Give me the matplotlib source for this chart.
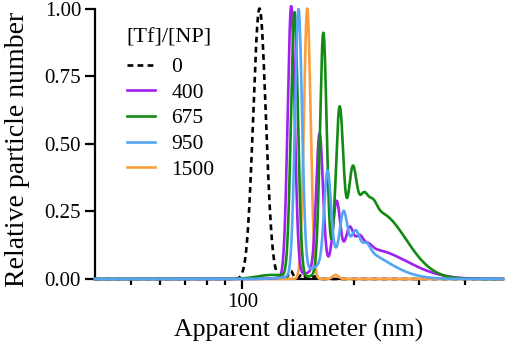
import numpy as np
import matplotlib
matplotlib.use("Agg")
import matplotlib.pyplot as plt
from matplotlib.ticker import FixedLocator, FixedFormatter, NullFormatter

plt.rcParams['font.family'] = 'serif'
plt.rcParams['font.serif'] = ['Liberation Serif']

# Peak parameters: centre (nm), height, width (decades of log10 d)
labels = ['0', '400', '675', '950', '1500']
colors = ['black', '#a020f0', '#138a13', '#55a5f5', '#fb9e3c']

centres_0 = [111.2, 135.0, 145.0, 157.0]
heights_0 = [1.0, 0.03, 0.02, 0.01]
widths_0 = [0.017, 0.006, 0.006, 0.006]

centres_400 = [135.4, 161.5, 179.5, 194.6, 207.1, 219.0, 221.8]
heights_400 = [1.0, 0.5, 0.22, 0.1, 0.055, 0.02, 0.11]
widths_400 = [0.0095, 0.009, 0.0095, 0.01, 0.01, 0.01, 0.095]

centres_675 = [120.0, 138.2, 165.3, 182.9, 198.3, 212.3, 224.6, 233.1]
heights_675 = [0.015, 0.98, 0.88, 0.55, 0.26, 0.1, 0.05, 0.245]
widths_675 = [0.04, 0.0095, 0.009, 0.01, 0.011, 0.011, 0.011, 0.073]

centres_950 = [141.7, 169.7, 187.5, 202.0, 216.3, 202.0]
heights_950 = [0.98, 0.33, 0.15, 0.07, 0.03, 0.11]
widths_950 = [0.0095, 0.009, 0.0095, 0.01, 0.01, 0.081]

centres_1500 = [149.6, 178.4]
heights_1500 = [1.0, 0.015]
widths_1500 = [0.009, 0.008]

series = [
    (centres_0, heights_0, widths_0),
    (centres_400, heights_400, widths_400),
    (centres_675, heights_675, widths_675),
    (centres_950, heights_950, widths_950),
    (centres_1500, heights_1500, widths_1500),
]

d = np.logspace(np.log10(40), np.log10(505), 3000)
ld = np.log10(d)


def profile(c, h, w):
    y = np.zeros_like(d)
    for ci, hi, wi in zip(c, h, w):
        y += hi * np.exp(-0.5 * ((ld - np.log10(ci)) / wi) ** 2)
    return y


fig = plt.figure(figsize=(5.05, 3.51), dpi=100)
ax = fig.add_axes([95 / 505, 1 - 279 / 351, 408 / 505, 270.5 / 351])

zorders = [2, 4, 5, 6, 3]
for (c, h, w), lab, col, z in zip(series, labels, colors, zorders):
    ls = (0, (2.2, 1.6)) if lab == '0' else '-'
    ax.plot(d, profile(c, h, w), color=col, lw=1.9, ls=ls, label=lab,
            zorder=z, clip_on=False)

ax.set_xscale('log')
ax.set_xlim(40, 505)
ax.set_ylim(0, 1.0)
ax.xaxis.set_major_locator(FixedLocator([100]))
ax.xaxis.set_minor_locator(FixedLocator([50, 60, 70, 80, 90, 200, 300, 400]))
ax.xaxis.set_major_formatter(FixedFormatter(['100']))
ax.xaxis.set_minor_formatter(NullFormatter())
ax.set_yticks([0, 0.25, 0.5, 0.75, 1.0])
ax.set_yticklabels(['0.00', '0.25', '0.50', '0.75', '1.00'])

for s in ['top', 'right']:
    ax.spines[s].set_visible(False)
for s in ['left', 'bottom']:
    ax.spines[s].set_linewidth(1.6)
ax.tick_params(axis='both', which='major', length=7, width=1.6, labelsize=15, pad=3)
ax.tick_params(axis='x', which='minor', length=4.5, width=1.6)

ax.set_xlabel('Apparent diameter (nm)', fontsize=18.5, labelpad=5)
ax.set_ylabel('Relative particle number', fontsize=20)
ax.yaxis.set_label_coords((30 - 95) / 408, (279 - 149) / 270.5)

fig.text(126 / 505, 1 - 37.5 / 351, '[Tf]/[NP]', fontsize=16, va='center', ha='left')
leg = ax.legend(frameon=False, fontsize=15.5, loc='upper left',
                bbox_to_anchor=(127 / 505, 1 - 57 / 351), bbox_transform=fig.transFigure,
                handlelength=1.3, handletextpad=0.75, labelspacing=0.26, borderpad=0,
                borderaxespad=0)

fig.savefig('out.png', dpi=100)
